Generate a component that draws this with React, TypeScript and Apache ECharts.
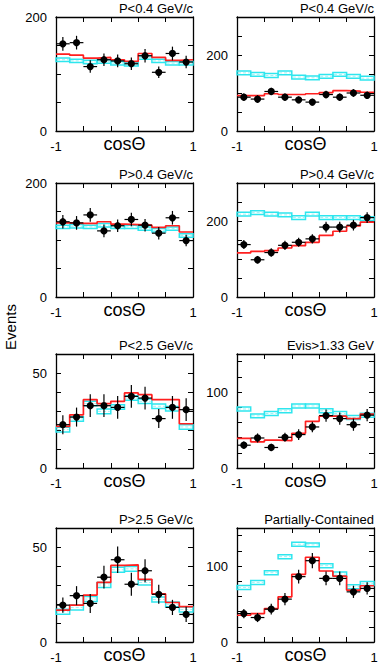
import React, { useEffect, useRef } from "react";
import * as echarts from "echarts";

const FONT = "'Liberation Sans', Arial, Helvetica, sans-serif";
const RED = "#ff1f1f";
const CYAN = "#2ee6ee";

const CENTERS = [-0.9, -0.7, -0.5, -0.3, -0.1, 0.1, 0.3, 0.5, 0.7, 0.9];
const EDGES = [-1, -0.8, -0.6, -0.4, -0.2, 0, 0.2, 0.4, 0.6, 0.8, 1];
const X_TICKS = [-0.6, -0.2, 0.2, 0.6];
const X_LABELS = [-1, 1];

const TITLES = [
  "P<0.4 GeV/c",
  "P<0.4 GeV/c",
  "P>0.4 GeV/c",
  "P>0.4 GeV/c",
  "P<2.5 GeV/c",
  "Evis>1.33 GeV",
  "P>2.5 GeV/c",
  "Partially-Contained",
];
const Y_MAX = [200, 300, 200, 300, 60, 150, 60, 150];
const Y_STEP = [50, 50, 50, 50, 10, 20, 10, 20];
const Y_LABELS = [[0, 200], [0, 200], [0, 200], [0, 200], [0, 50], [0, 100], [0, 50], [0, 100]];
const BAND_HALF = [3, 5, 3, 5, 1.2, 2.6, 1.3, 2.6];

// Panel 1
const DATA_1 = [153, 155, 113, 125, 123, 118, 132, 103, 136, 121];
const ERR_1 = [12, 12, 11, 11, 11, 11, 12, 10, 12, 11];
const RED_1 = [135, 133, 128, 129, 125, 122, 136, 129, 124, 125];
const CYAN_1 = [125, 123, 121, 122, 119, 117, 129, 123, 119, 119];
// Panel 2
const DATA_2 = [89, 84, 104, 89, 82, 76, 96, 89, 100, 94];
const ERR_2 = [10, 10, 10, 10, 9, 9, 10, 10, 10, 10];
const RED_2 = [93, 93, 98, 96, 96, 98, 101, 106, 105, 102];
const CYAN_2 = [153, 149, 146, 153, 142, 140, 144, 149, 144, 139];
// Panel 3
const DATA_3 = [132, 130, 144, 116, 125, 136, 126, 112, 139, 99];
const ERR_3 = [12, 12, 12, 11, 11, 12, 11, 11, 12, 10];
const RED_3 = [130, 129, 129, 132, 128, 127, 126, 122, 125, 114];
const CYAN_3 = [123, 124, 123, 126, 123, 123, 120, 117, 120, 108];
// Panel 4
const DATA_4 = [138, 98, 117, 136, 144, 153, 184, 184, 189, 209];
const ERR_4 = [12, 10, 11, 12, 12, 12, 14, 14, 14, 14];
const RED_4 = [116, 120, 122, 129, 135, 144, 162, 173, 187, 197];
const CYAN_4 = [218, 222, 218, 216, 209, 218, 209, 209, 209, 206];
// Panel 5
const DATA_5 = [22.8, 26.8, 32.8, 32.8, 31.9, 37.7, 36.8, 26, 31.9, 30.7];
const ERR_5 = [5, 5, 6, 6, 6, 6, 6, 5, 6, 6];
const RED_5 = [21.9, 28, 36, 33.9, 35.1, 39.5, 38.6, 36, 36, 23.3];
const CYAN_5 = [20.2, 25.8, 33.9, 29.8, 32.1, 36.8, 35.1, 32.5, 31.2, 21.6];
// Panel 6
const DATA_6 = [30, 39.5, 27, 40.4, 44, 54, 69, 65, 57, 69.5];
const ERR_6 = [5, 6, 5, 6, 7, 7, 8, 8, 8, 8];
const RED_6 = [39, 34.5, 36.8, 36, 45.7, 61.4, 68.2, 68.2, 65, 71];
const CYAN_6 = [77.6, 68.6, 71.7, 75.3, 81.6, 81.6, 75.3, 71.7, 66.4, 69.5];
// Panel 7
const DATA_7 = [19.4, 24.4, 20.3, 34.1, 43.3, 30.4, 37.5, 25.1, 18.2, 14.5];
const ERR_7 = [4, 5, 5, 6, 7, 6, 6, 5, 4, 4];
const RED_7 = [16.8, 19.4, 24.7, 31.4, 40.3, 40.6, 33, 25.3, 20.8, 18.6];
const CYAN_7 = [15.9, 18.2, 22.6, 30, 38, 38.5, 31.3, 22.4, 19.8, 17.1];
// Panel 8
const DATA_8 = [37.4, 32.2, 43.2, 56.4, 86, 107, 83.7, 83.7, 66, 70.5];
const ERR_8 = [6, 6, 7, 8, 9, 10, 9, 9, 8, 8];
const RED_8 = [35.2, 37.4, 44, 59.5, 89, 111.5, 93.4, 86.8, 68.3, 74];
const CYAN_8 = [71.8, 78.4, 91.2, 112.3, 128.6, 127.8, 100.4, 89.4, 72.7, 77.1];

const DATA = [DATA_1, DATA_2, DATA_3, DATA_4, DATA_5, DATA_6, DATA_7, DATA_8];
const ERRS = [ERR_1, ERR_2, ERR_3, ERR_4, ERR_5, ERR_6, ERR_7, ERR_8];
const REDS = [RED_1, RED_2, RED_3, RED_4, RED_5, RED_6, RED_7, RED_8];
const CYANS = [CYAN_1, CYAN_2, CYAN_3, CYAN_4, CYAN_5, CYAN_6, CYAN_7, CYAN_8];

const COL_LEFT = [56, 237];
const ROW_TOP = [17, 183, 354, 528];
const GRID_W = 137;
const GRID_H = 114;

function buildOption() {
  const grid: any[] = [];
  const xAxis: any[] = [];
  const yAxis: any[] = [];
  const series: any[] = [];
  const title: any[] = [];

  for (let p = 0; p < 8; p++) {
    const col = p % 2;
    const row = Math.floor(p / 2);
    const left = COL_LEFT[col];
    const top = ROW_TOP[row];
    grid.push({ left, top, width: GRID_W, height: GRID_H, containLabel: false });

    const axisLine = { show: true, onZero: false, lineStyle: { color: "#000", width: 1.3 } };
    const tickStyle = { color: "#000", width: 1 };
    xAxis.push({
      type: "value", gridIndex: p, min: -1, max: 1, position: "bottom",
      axisLine,
      axisTick: { show: true, inside: true, length: 5, customValues: X_TICKS, lineStyle: tickStyle },
      axisLabel: { customValues: X_LABELS, color: "#000", fontSize: 13, margin: 9, fontFamily: FONT },
      splitLine: { show: false },
      name: "cosΘ", nameLocation: "middle", nameGap: 4, nameMoveOverlap: false,
      nameTextStyle: { fontSize: 18, color: "#000", fontFamily: FONT, verticalAlign: "top" },
    });
    xAxis.push({
      type: "value", gridIndex: p, min: -1, max: 1, position: "top",
      axisLine,
      axisTick: { show: true, inside: true, length: 5, customValues: X_TICKS, lineStyle: tickStyle },
      axisLabel: { show: false },
      splitLine: { show: false },
    });
    const labs = Y_LABELS[p];
    yAxis.push({
      type: "value", gridIndex: p, min: 0, max: Y_MAX[p], interval: Y_STEP[p], position: "left",
      axisLine,
      axisTick: { show: true, inside: true, length: 5, lineStyle: tickStyle },
      axisLabel: {
        color: "#000", fontSize: 13, margin: 9, fontFamily: FONT,
        showMaxLabel: true,
        formatter: (v: number) => (labs.indexOf(v) >= 0 ? String(v) : ""),
      },
      splitLine: { show: false },
    });
    yAxis.push({
      type: "value", gridIndex: p, min: 0, max: Y_MAX[p], interval: Y_STEP[p], position: "right",
      axisLine,
      axisTick: { show: true, inside: true, length: 5, lineStyle: tickStyle },
      axisLabel: { show: false },
      splitLine: { show: false },
    });

    title.push({
      text: TITLES[p],
      right: 381 - (left + GRID_W),
      top: top - 15,
      padding: 0,
      textStyle: { fontSize: 13, fontWeight: "normal", color: "#000", fontFamily: FONT },
    });

    const xi = p * 2;
    const yi = p * 2;
    const half = BAND_HALF[p];

    // cyan band boxes
    series.push({
      type: "custom",
      xAxisIndex: xi, yAxisIndex: yi,
      data: CENTERS.map((c, i) => [c, CYANS[p][i]]),
      encode: { x: 0, y: 1 },
      silent: true,
      z: 2,
      renderItem: (params: any, api: any) => {
        const c = api.value(0);
        const v = api.value(1);
        const p0 = api.coord([c - 0.1, v + half]);
        const p1 = api.coord([c + 0.1, v - half]);
        const pm = api.coord([c, v]);
        return {
          type: "group",
          children: [
            {
              type: "line",
              shape: { x1: p0[0] + 1, y1: pm[1], x2: p1[0] - 1, y2: pm[1] },
              style: { stroke: "#9ef2f4", lineWidth: 1, lineDash: [3, 2] },
            },
            {
              type: "rect",
              shape: { x: p0[0], y: p0[1], width: p1[0] - p0[0], height: p1[1] - p0[1] },
              style: { fill: "none", stroke: CYAN, lineWidth: 1.5 },
            },
          ],
        };
      },
    });

    // red step
    series.push({
      type: "line",
      xAxisIndex: xi, yAxisIndex: yi,
      step: "end",
      showSymbol: false,
      symbol: "none",
      z: 3,
      lineStyle: { color: RED, width: 1.7 },
      data: EDGES.map((x, i) => [x, REDS[p][Math.min(i, 9)]]),
      silent: true,
    });

    // data points with error bars
    series.push({
      type: "custom",
      xAxisIndex: xi, yAxisIndex: yi,
      data: CENTERS.map((c, i) => [c, DATA[p][i], ERRS[p][i]]),
      encode: { x: 0, y: 1 },
      silent: true,
      z: 4,
      renderItem: (params: any, api: any) => {
        const c = api.value(0);
        const v = api.value(1);
        const e = api.value(2);
        const pt = api.coord([c, v]);
        const up = api.coord([c, v + e]);
        const dn = api.coord([c, v - e]);
        const l = api.coord([c - 0.1, v]);
        const r = api.coord([c + 0.1, v]);
        const st = { stroke: "#000", lineWidth: 1.2 };
        return {
          type: "group",
          children: [
            { type: "line", shape: { x1: pt[0], y1: up[1], x2: pt[0], y2: dn[1] }, style: st },
            { type: "line", shape: { x1: l[0], y1: pt[1], x2: r[0], y2: pt[1] }, style: st },
            { type: "circle", shape: { cx: pt[0], cy: pt[1], r: 3.6 }, style: { fill: "#000" } },
          ],
        };
      },
    });
  }

  return {
    animation: false,
    backgroundColor: "#fff",
    textStyle: { fontFamily: FONT },
    title,
    grid,
    xAxis,
    yAxis,
    series,
    graphic: [
      {
        type: "text",
        x: 10,
        y: 327,
        rotation: Math.PI / 2,
        style: {
          text: "Events",
          fontSize: 15,
          fontFamily: FONT,
          fill: "#000",
          align: "center",
          verticalAlign: "middle",
        },
      },
    ],
  };
}

export default function App() {
  const ref = useRef<HTMLDivElement>(null);
  useEffect(() => {
    if (!ref.current) return;
    const chart = echarts.init(ref.current, undefined, { renderer: "svg" });
    chart.setOption(buildOption() as any);
    return () => chart.dispose();
  }, []);
  return (
    <div
      ref={ref}
      style={{ position: "fixed", left: 0, top: 0, width: 381, height: 667, background: "#fff" }}
    />
  );
}
